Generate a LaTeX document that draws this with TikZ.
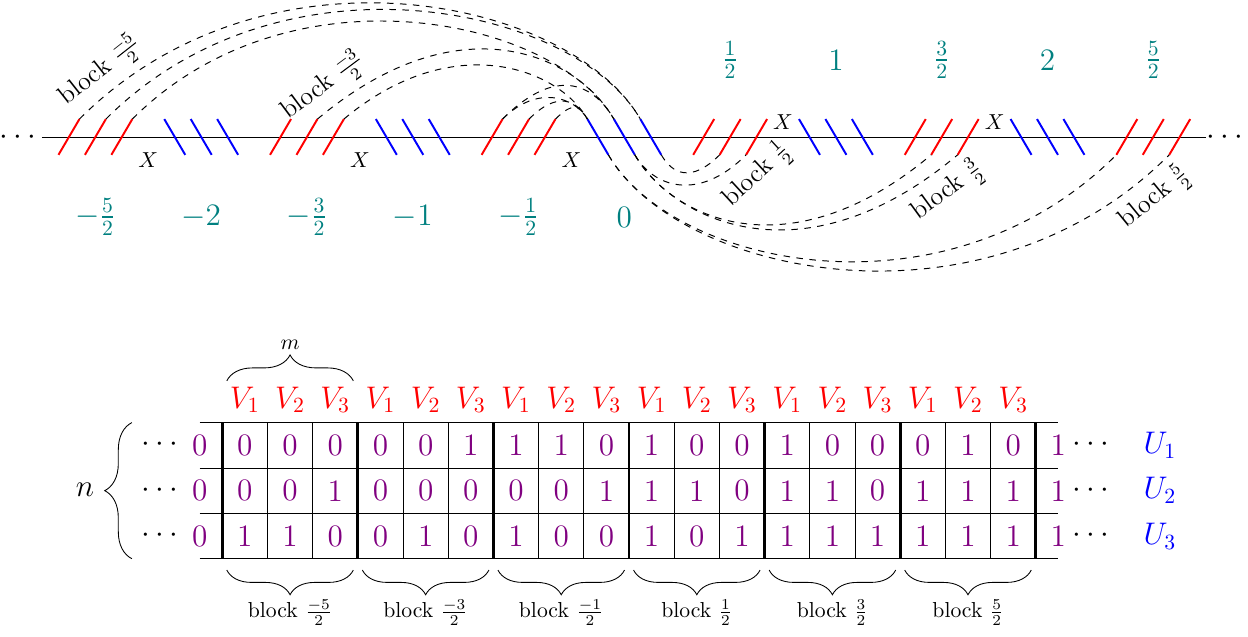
\documentclass[tikz,border=0pt]{standalone}
\usepackage{amsmath,amssymb}
\usepackage{xcolor}
\usepackage{tikz}
\usetikzlibrary{calc, decorations.pathreplacing}

\begin{document}
\begin{tikzpicture}[
    redtick/.style={draw=red, line width=0.9pt},
    bluetick/.style={draw=blue, line width=0.9pt},
    strand/.style={dashed, line width=0.45pt},
    lvl/.style={font=\Large, text=teal},
    dots/.style={font=\Large, inner sep=0pt, text height=7.2pt, text depth=0pt},
    blab/.style={font=\large, sloped, inner sep=1pt},
    cell/.style={font=\Large, text=violet, inner sep=1pt},
    colv/.style={font=\Large, text=red, inner sep=1pt},
    rowu/.style={font=\Large, text=blue, inner sep=1pt},
    brc/.style={decorate, decoration={brace, amplitude=0.42cm}},
    brcb/.style={decorate, decoration={brace, mirror, amplitude=0.4cm}}
]
    \useasboundingbox (0,0) rectangle (20.23,10.31);

    % Strip with the blocks
    \node[dots, anchor=east] (ldots) at (0.68, 8.09) {$\cdots$};
    \node[dots, anchor=west] (rdots) at (19.55, 8.09) {$\cdots$};
    \draw (ldots) -- (rdots);

    \foreach \k in {0,...,42} {
        \pgfmathtruncatemacro\r{mod(\k,8)}
        \pgfmathsetmacro\x{1.118+0.4287*\k}
        \ifnum\r<3
            \coordinate (b\k) at (\x-0.17, 7.80);
            \coordinate (t\k) at (\x+0.17, 8.38);
            \draw[redtick] (b\k) -- (t\k);
        \else\ifnum\r=3 \else\ifnum\r=7 \else
            \coordinate (t\k) at (\x-0.17, 8.38);
            \coordinate (b\k) at (\x+0.17, 7.80);
            \draw[bluetick] (t\k) -- (b\k);
        \fi\fi\fi
    }

    \foreach \k in {3,11,19} \node[inner sep=1pt] (x\k) at ({1.118+0.4287*\k}, 7.715) {$X$};
    \foreach \k in {27,35} \node[inner sep=1pt] (x\k) at ({1.118+0.4287*\k}, 8.33) {$X$};

    \foreach \k/\v [count=\i] in {1/{-\frac{5}{2}}, 5/{-2}, 9/{-\frac{3}{2}}, 13/{-1}, 17/{-\frac{1}{2}}, 21/{0}}
        \node[lvl] (lo\i) at ({1.118+0.4287*\k}, 6.79) {$\v$};
    \foreach \k/\v [count=\i] in {25/{\frac{1}{2}}, 29/{1}, 33/{\frac{3}{2}}, 37/{2}, 41/{\frac{5}{2}}}
        \node[lvl] (hi\i) at ({1.118+0.4287*\k}, 9.335) {$\v$};

    % Strands over the top
    \draw[strand] (t0) .. controls +(45:4.25) and +(120:2.27) .. (t22)
        node[blab, pos=0.06, above=2pt] (lbm5) {block $\frac{-5}{2}$};
    \draw[strand] (t1) .. controls +(45:4.0) and +(120:2.15) .. (t22);
    \draw[strand] (t2) .. controls +(45:3.6) and +(120:1.9) .. (t21);
    \draw[strand] (t9) .. controls +(40:3.0) and +(120:1.2) .. (t21)
        node[blab, pos=0.045, above=2pt] (lbm3) {block $\frac{-3}{2}$};
    \draw[strand] (t10) .. controls +(40:2.27) and +(120:0.97) .. (t20);
    \draw[strand] (t16) .. controls +(45:1.26) and +(120:0.63) .. (t21);
    \draw[strand] (t16) .. controls +(45:0.81) and +(120:0.4) .. (t20);
    \draw[strand] (t17) .. controls +(45:0.65) and +(120:0.36) .. (t20);
    \draw[strand] (t18) .. controls +(45:0.4) and +(120:0.25) .. (t20);

    % Strands underneath
    \draw[strand] (b22) .. controls +(300:0.36) and +(225:0.65) .. (b25);
    \draw[strand] (b21) .. controls +(300:0.6) and +(225:1.1) .. (b26)
        node[blab, pos=0.97, below=2pt] (lbp1) {block $\frac{1}{2}$};
    \draw[strand] (b21) .. controls +(300:1.2) and +(220:3.0) .. (b33);
    \draw[strand] (b21) .. controls +(300:1.2) and +(220:3.3) .. (b34)
        node[blab, pos=0.95, below=2pt] (lbp3) {block $\frac{3}{2}$};
    \draw[strand] (b20) .. controls +(300:2.1) and +(225:3.9) .. (b40);
    \draw[strand] (b20) .. controls +(300:2.27) and +(225:4.25) .. (b42)
        node[blab, pos=0.95, below=2pt] (lbp5) {block $\frac{5}{2}$};

    % Table
    \begin{scope}[shift={(3.603,1.253)}, x=0.7326cm, y=0.7355cm]
        \foreach \y in {0,...,3} \draw (-0.5,\y) -- (18.5,\y);
        \foreach \c in {1,2,4,5,7,8,10,11,13,14,16,17} \draw (\c,0) -- (\c,3);
        \foreach \c in {0,3,...,18} \draw[line width=1.3pt] (\c,0) -- (\c,3);

        \foreach \bits [count=\j] in {{0,0,0,0,0,0,1,1,1,0,1,0,0,1,0,0,0,1,0,1},
                                      {0,0,0,1,0,0,0,0,0,1,1,1,0,1,1,0,1,1,1,1},
                                      {0,1,1,0,0,1,0,1,0,0,1,0,1,1,1,1,1,1,1,1}} {
            \foreach \b [count=\i] in \bits
                \node[cell] (d\j-\i) at (\i-1.5, 3.5-\j) {\b};
            \node[dots] (lc\j) at (-1.33, 3.53-\j) {$\cdots$};
            \node[dots] (rc\j) at (19.28, 3.53-\j) {$\cdots$};
            \node[rowu] (u\j) at (20.75, 3.5-\j) {$U_{\j}$};
        }

        \foreach \c in {0,...,17} {
            \pgfmathtruncatemacro\v{mod(\c,3)+1}
            \node[colv] (v\c) at (\c+0.5, 3.5) {$V_{\v}$};
        }

        \draw[brc] (0.1,3.92) -- (2.9,3.92);
        \node (mlab) at (1.5,4.71) {$m$};

        \draw[brc, decoration={amplitude=0.44cm}] (-2.0,0) -- (-2.0,3);
        \node[font=\Large] (nlab) at (-3.04,1.51) {$n$};

        \foreach \n [count=\i from 0] in {-5,-3,-1,1,3,5} {
            \draw[brcb] (3*\i+0.1,-0.25) -- (3*\i+2.9,-0.25);
            \node (bl\i) at (3*\i+1.5,-1.18) {block $\frac{\n}{2}$};
        }
    \end{scope}
\end{tikzpicture}
\end{document}
